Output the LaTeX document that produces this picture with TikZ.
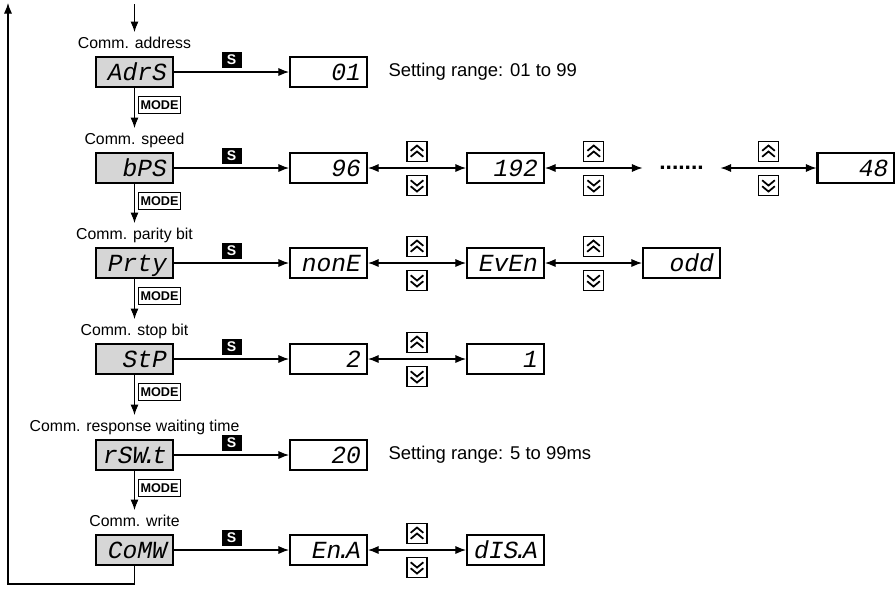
\documentclass[tikz,border=0pt]{standalone}
\usepackage{fontspec}
\setmainfont{Liberation Sans}
\newfontfamily\segfont{Liberation Mono}
\usetikzlibrary{arrows.meta}
\definecolor{dispGray}{HTML}{D6D6D6}
\newcommand\sdot{\kern-0.2em.\kern-0.2em}
\tikzset{
  >={Latex[length=6pt,width=4.6pt]},
  disp/.style={draw, line width=1.2pt, fill=dispGray, minimum width=1.54cm, minimum height=0.6cm,
    inner sep=0pt, text width=1.3cm, align=right, text height=3.3mm, text depth=0pt,
    font=\segfont\itshape\fontsize{14}{14}\selectfont},
  val/.style={disp, fill=white},
  lbl/.style={inner sep=1pt, text height=7pt, text depth=2pt, font=\fontsize{9}{11}\selectfont},
  note/.style={anchor=west, inner sep=0pt, font=\fontsize{10.5}{12}\selectfont},
  skey/.style={fill=black, text=white, minimum width=0.4cm, minimum height=0.32cm, inner sep=0pt,
    font=\bfseries\fontsize{8}{8}\selectfont},
  modekey/.style={draw, line width=0.5pt, fill=white, inner sep=1pt, minimum height=0.34cm,
    font=\bfseries\fontsize{7.2}{8}\selectfont},
  key/.style={draw, line width=0.6pt, minimum size=0.4cm, inner sep=0pt},
  upkey/.style={key, path picture={
    \draw[-, line width=1pt] ([shift={(-3.6pt,0.4pt)}]path picture bounding box.center) -- ++(3.6pt,3pt) -- ++(3.6pt,-3pt);
    \draw[-, line width=1pt] ([shift={(-3.6pt,-3pt)}]path picture bounding box.center) -- ++(3.6pt,3pt) -- ++(3.6pt,-3pt);}},
  downkey/.style={key, path picture={
    \draw[-, line width=1pt] ([shift={(-3.6pt,-0.4pt)}]path picture bounding box.center) -- ++(3.6pt,-3pt) -- ++(3.6pt,3pt);
    \draw[-, line width=1pt] ([shift={(-3.6pt,3pt)}]path picture bounding box.center) -- ++(3.6pt,-3pt) -- ++(3.6pt,3pt);}},
  dotsbox/.style={minimum width=1.54cm, inner sep=0pt, text height=2pt, text depth=0pt,
    font=\bfseries\fontsize{13}{13}\selectfont}
}

\begin{document}
\begin{tikzpicture}[x=0.02cm, y=-0.02cm, line width=0.6pt]
\useasboundingbox (0,0) rectangle (895,589);

\node[lbl] (l1) at (134.5,44) {Comm. address};
\node[disp] (d1) at (134.5,72) {AdrS};
\node[val] (v11) at (328.5,72) {01};
\node[note] (n1) at (388,72) {Setting range: 01 to 99};

\node[lbl] (l2) at (134.5,140) {Comm. speed};
\node[disp] (d2) at (134.5,168) {bPS};
\node[val] (v21) at (328.5,168) {96};
\node[val] (v22) at (505.5,168) {192};
\node[dotsbox] (dt) at (681.5,168) {.......};
\node[val] (v24) at (856,168) {48};

\node[lbl] (l3) at (134.5,235) {Comm. parity bit};
\node[disp] (d3) at (134.5,263) {Prty};
\node[val] (v31) at (328.5,263) {nonE};
\node[val] (v32) at (505.5,263) {EvEn};
\node[val] (v33) at (681.5,263) {odd};

\node[lbl] (l4) at (134.5,331) {Comm. stop bit};
\node[disp] (d4) at (134.5,359) {StP};
\node[val] (v41) at (328.5,359) {2};
\node[val] (v42) at (505.5,359) {1};

\node[lbl] (l5) at (134.5,427) {Comm. response waiting time};
\node[disp] (d5) at (134.5,455) {rSW\sdot t};
\node[val] (v51) at (328.5,455) {20};
\node[note] (n5) at (388,455) {Setting range: 5 to 99ms};

\node[lbl] (l6) at (134.5,522) {Comm. write};
\node[disp] (d6) at (134.5,550) {CoMW};
\node[val] (v61) at (328.5,550) {En\sdot A};
\node[val] (v62) at (505.5,550) {dIS\sdot A};

\coordinate (start) at (134.5,4);
\coordinate (back) at (8,584);
\coordinate (top) at (8,3);
\draw[->, shorten >=1pt] (start) -- (l1);
\draw[->] (d6) |- (back) -- (top);

\draw[->, shorten >=1pt] (d1) -- (l2);
\draw[->, shorten >=1pt] (d2) -- (l3);
\draw[->, shorten >=1pt] (d3) -- (l4);
\draw[->, shorten >=1pt] (d4) -- (l5);
\draw[->, shorten >=1pt] (d5) -- (l6);
\node[modekey, anchor=north west] (m1) at ([xshift=2.2pt,yshift=-4.5pt]d1.south) {MODE};
\node[modekey, anchor=north west] (m2) at ([xshift=2.2pt,yshift=-4.5pt]d2.south) {MODE};
\node[modekey, anchor=north west] (m3) at ([xshift=2.2pt,yshift=-4.5pt]d3.south) {MODE};
\node[modekey, anchor=north west] (m4) at ([xshift=2.2pt,yshift=-4.5pt]d4.south) {MODE};
\node[modekey, anchor=north west] (m5) at ([xshift=2.2pt,yshift=-4.5pt]d5.south) {MODE};

\draw[->] (d1) -- node[skey, above=2pt] (s1) {S} (v11);
\draw[->] (d2) -- node[skey, above=2pt] (s2) {S} (v21);
\draw[->] (d3) -- node[skey, above=2pt] (s3) {S} (v31);
\draw[->] (d4) -- node[skey, above=2pt] (s4) {S} (v41);
\draw[->] (d5) -- node[skey, above=2pt] (s5) {S} (v51);
\draw[->] (d6) -- node[skey, above=2pt] (s6) {S} (v61);

\draw[<->] (v21) -- node[upkey, above=3.4pt] (u21) {} node[downkey, below=4pt] (k21) {} (v22);
\draw[<->] (v22) -- node[upkey, above=3.4pt] (u22) {} node[downkey, below=4pt] (k22) {} (dt);
\draw[<->] (dt) -- node[upkey, above=3.4pt] (u23) {} node[downkey, below=4pt] (k23) {} (v24);
\draw[<->] (v31) -- node[upkey, above=3.4pt] (u31) {} node[downkey, below=4pt] (k31) {} (v32);
\draw[<->] (v32) -- node[upkey, above=3.4pt] (u32) {} node[downkey, below=4pt] (k32) {} (v33);
\draw[<->] (v41) -- node[upkey, above=3.4pt] (u41) {} node[downkey, below=4pt] (k41) {} (v42);
\draw[<->] (v61) -- node[upkey, above=3.4pt] (u61) {} node[downkey, below=4pt] (k61) {} (v62);
\end{tikzpicture}
\end{document}
